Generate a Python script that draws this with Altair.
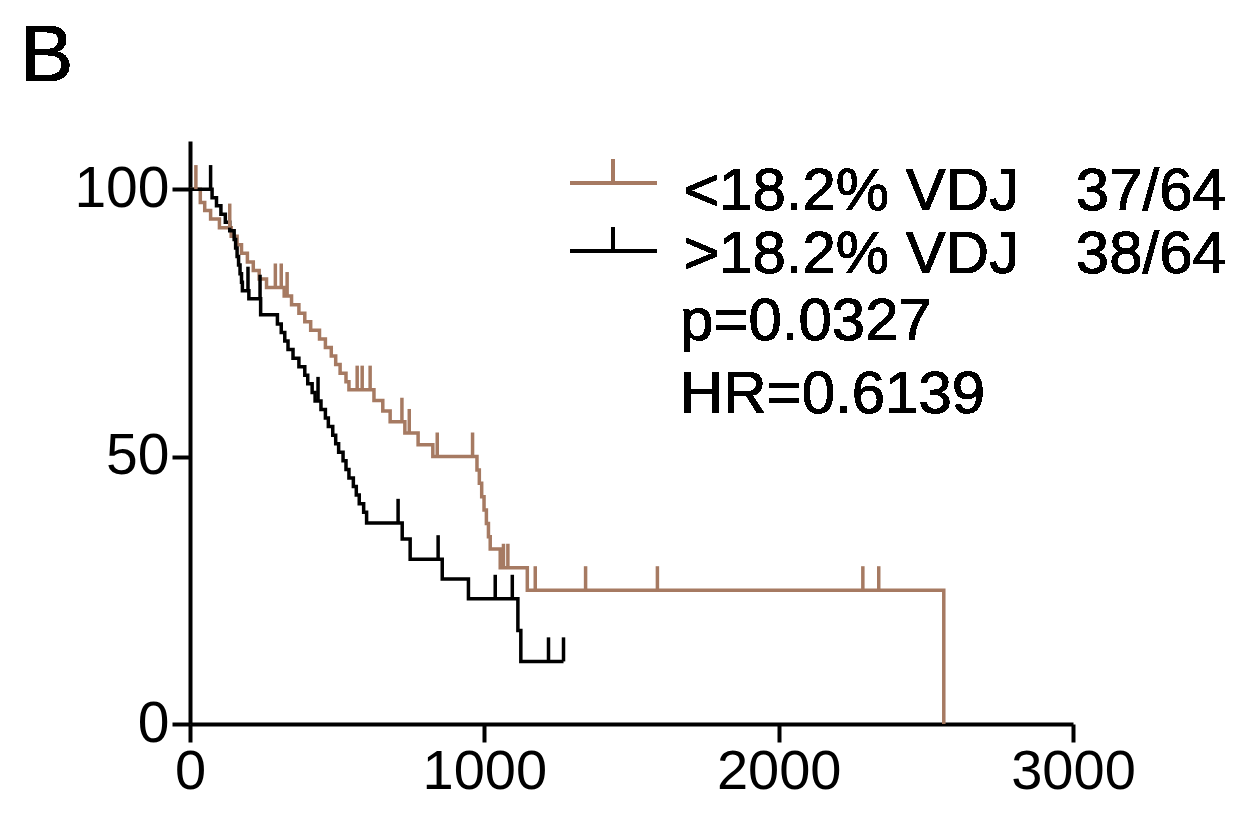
import altair as alt
import pandas as pd

# ---- data ----
low_t = [0, 35, 50, 70, 100, 140, 160, 175, 195, 215, 235, 260, 320, 345, 370, 390, 410,
         440, 460, 480, 495, 510, 530, 540, 625, 655, 680, 730, 775, 825, 975, 983, 991,
         999, 1007, 1014, 1020, 1054, 1146, 2561]
low_s = [100, 97.5, 96, 94.4, 92.8, 91.2, 89.6, 88, 86.4, 84.8, 83.2, 81.6, 80, 78.4, 76.8,
         75.2, 73.6, 72, 70.4, 68.8, 67.2, 65.6, 64, 62.5, 60.5, 58.5, 56.5, 54.4, 52.2, 50,
         47.5, 45, 42.5, 40, 37.5, 35, 32.7, 29.2, 25, 0]
low_cens = [20, 135, 290, 310, 330, 568, 585, 612, 720, 745, 840, 960, 1065, 1080, 1173,
            1344, 1588, 2286, 2340]

high_t = [0, 75, 90, 105, 120, 135, 150, 155, 160, 165, 170, 175, 178, 200, 240, 297, 310,
          322, 333, 350, 370, 390, 400, 415, 425, 445, 460, 470, 485, 495, 505, 520, 530,
          540, 555, 565, 575, 590, 600, 721, 748, 857, 946, 1114, 1124, 1269]
high_s = [100, 98.4, 96.9, 95.3, 93.8, 92.2, 90.6, 89, 87.4, 85.8, 84.2, 82.6, 81, 79.5,
          76.5, 74.8, 73.2, 71.6, 70, 68.4, 66.8, 65.2, 63.6, 62, 60.4, 58.8, 57.2, 55.6, 54,
          52.4, 50.8, 49.2, 47.6, 46, 44.4, 42.8, 41.2, 39.6, 37.6, 34.6, 30.8, 27.1, 23.4,
          17.5, 11.7, 11.7]
high_cens = [70, 197, 238, 435, 707, 843, 1037, 1095, 1218, 1269]

series_names = ["<18.2% VDJ", ">18.2% VDJ"]
series_counts = ["37/64", "38/64"]
stats_text = ["p=0.0327", "HR=0.6139"]
x_ticks = [0, 1000, 2000, 3000]
y_ticks = [0, 50, 100]
panel_label = "B"

BROWN = "#a67a62"
FONT = "Liberation Sans"
TICK_H = 4.5  # censor mark height in y units
DY = 4  # compensation for plot shift


def step_value(ts, ss, t):
    v = ss[0]
    for ti, si in zip(ts, ss):
        if ti <= t:
            v = si
    return v


curve_rows = []
for name, ts, ss in [(series_names[0], low_t, low_s), (series_names[1], high_t, high_s)]:
    for i, (t, s) in enumerate(zip(ts, ss)):
        curve_rows.append({"grp": name, "t": t, "s": s, "o": i})
curves = pd.DataFrame(curve_rows)

cens_rows = []
for name, ts, ss, cs in [(series_names[0], low_t, low_s, low_cens),
                         (series_names[1], high_t, high_s, high_cens)]:
    for c in cs:
        cens_rows.append({"grp": name, "t": c, "s": step_value(ts, ss, c)})
cens = pd.DataFrame(cens_rows)

color = alt.Color("grp:N", scale=alt.Scale(domain=series_names, range=[BROWN, "#000000"]),
                  legend=None)
xs = alt.Scale(domain=[0, 3000], nice=False, zero=True)
ys = alt.Scale(domain=[0, 109], nice=False)

x_axis = alt.Axis(values=x_ticks, title=None, grid=False, domainWidth=4, domainColor="black",
                  tickWidth=4, tickSize=18, tickColor="black", labelFontSize=56,
                  labelFont=FONT, labelColor="black", labelPadding=2, format="d",
                  labelFlush=False)
y_axis = alt.Axis(values=y_ticks, title=None, grid=False, domainWidth=4, domainColor="black",
                  tickWidth=4, tickSize=18, tickColor="black", labelFontSize=57,
                  labelFont=FONT, labelColor="black", labelPadding=3, format="d",
                  labelFlush=False)

lines = alt.Chart(curves).mark_line(interpolate="step-after", strokeWidth=3.5).encode(
    x=alt.X("t:Q", scale=xs, axis=x_axis),
    y=alt.Y("s:Q", scale=ys, axis=y_axis),
    order="o:Q",
    color=color,
)

ticks = alt.Chart(cens).transform_calculate(top=f"datum.s + {TICK_H}").mark_rule(
    strokeWidth=3.5).encode(
    x=alt.X("t:Q", scale=xs),
    y=alt.Y("s:Q", scale=ys),
    y2="top:Q",
    color=color,
)

layers = [lines, ticks]

# legend
leg_y = [38 + DY, 106 + DY]
leg_cols = [BROWN, "#000000"]
for i in range(2):
    layers.append(alt.Chart(curves).mark_rule(strokeWidth=3.5, color=leg_cols[i]).encode(
        x=alt.value(380), x2=alt.value(467), y=alt.value(leg_y[i])))
    layers.append(alt.Chart(curves).mark_rule(strokeWidth=3.5, color=leg_cols[i]).encode(
        x=alt.value(423), y=alt.value(leg_y[i] - 24), y2=alt.value(leg_y[i])))
    layers.append(alt.Chart(curves).mark_text(
        text=series_names[i], fontSize=60, font=FONT, align="left", baseline="alphabetic",
        color="black").encode(x=alt.value(494), y=alt.value(65 + DY + 63 * i)))
    layers.append(alt.Chart(curves).mark_text(
        text=series_counts[i], fontSize=60, font=FONT, align="right", baseline="alphabetic",
        color="black").encode(x=alt.value(1036), y=alt.value(65 + DY + 63 * i)))

for i, txt in enumerate(stats_text):
    layers.append(alt.Chart(curves).mark_text(
        text=txt, fontSize=60, font=FONT, align="left", baseline="alphabetic",
        color="black").encode(x=alt.value(490), y=alt.value(195 + DY + 73 * i)))

layers.append(alt.Chart(curves).mark_text(
    text=panel_label, fontSize=80, font=FONT, align="left", baseline="alphabetic",
    color="black").encode(x=alt.value(-170), y=alt.value(-60)))

chart = alt.layer(*layers).properties(
    width=883, height=583,
    autosize=alt.AutoSizeParams(type="none"),
    padding={"left": 182, "top": 133, "right": 163, "bottom": 82},
    background="white",
).configure_view(stroke=None)

chart.save("out.html", embed_options={"renderer": "svg", "actions": False})
